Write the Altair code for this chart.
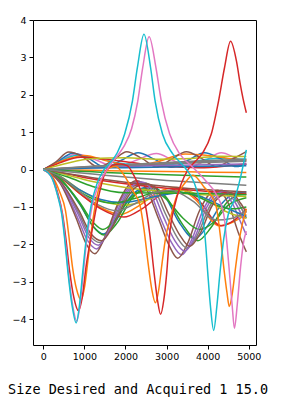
import altair as alt
import pandas as pd

# ---- series keypoints (x, y) ----
CYAN_A = [(0,0),(200,-0.2),(350,-0.7),(450,-1.2),(520,-1.85),(600,-2.74),(700,-3.63),(800,-4.1),(880,-3.63),(960,-2.74),(1045,-1.85),(1165,-0.96),(1300,-0.4),(1450,-0.05),(1600,0.15),(1800,0.45),(1980,0.95),(2170,1.84),(2290,2.73),(2450,3.62),(2610,2.73),(2720,1.84),(2900,0.95),(3150,0.42),(3450,0.05),(3650,-0.3),(3830,-0.96),(3940,-1.85),(4000,-2.74),(4065,-3.63),(4145,-4.3),(4225,-3.63),(4300,-2.74),(4390,-1.85),(4500,-1.2),(4650,-0.8),(4800,-0.2),(4940,0.53)]
PINK_A = [(0,0),(200,-0.2),(350,-0.68),(460,-1.2),(530,-1.85),(610,-2.74),(710,-3.6),(815,-4.05),(895,-3.6),(975,-2.74),(1060,-1.85),(1190,-0.96),(1350,-0.4),(1550,0.0),(1750,0.3),(1950,0.6),(2150,1.1),(2300,1.84),(2420,2.73),(2575,3.55),(2740,2.73),(2870,1.84),(3075,0.95),(3320,0.42),(3650,0.05),(3950,-0.3),(4200,-0.65),(4390,-1.2),(4470,-2.0),(4540,-2.9),(4600,-3.7),(4650,-4.24),(4720,-3.6),(4800,-2.6),(4880,-1.9),(4940,-1.65)]
RED_A = [(0,0),(200,-0.18),(350,-0.62),(470,-1.2),(550,-1.85),(640,-2.7),(740,-3.4),(855,-3.77),(950,-3.4),(1040,-2.6),(1175,-1.71),(1330,-0.8),(1540,0.0),(1700,0.12),(1880,0.15),(2050,0.1),(2200,-0.15),(2350,-0.5),(2485,-0.96),(2590,-1.72),(2700,-2.8),(2780,-3.5),(2855,-3.87),(2930,-3.5),(3000,-2.8),(3075,-1.72),(3200,-0.95),(3350,-0.4),(3520,0.0),(3700,0.22),(3880,0.45),(4087,0.95),(4265,1.84),(4410,2.73),(4556,3.43),(4700,2.9),(4790,2.3),(4860,1.9),(4940,1.52)]
ORANGE_A = [(0,0),(200,-0.15),(400,-0.6),(540,-1.1),(620,-1.75),(710,-2.6),(810,-3.2),(920,-3.48),(1010,-3.1),(1100,-2.3),(1200,-1.4),(1330,-0.6),(1480,-0.15),(1620,0.05),(1760,0.08),(1900,-0.05),(2050,-0.3),(2200,-0.6),(2354,-0.96),(2450,-1.6),(2550,-2.5),(2640,-3.2),(2728,-3.56),(2810,-3.2),(2890,-2.5),(2980,-1.8),(3107,-1.23),(3250,-0.7),(3432,-0.38),(3641,-0.15),(3900,-0.45),(4200,-0.96),(4300,-1.7),(4400,-2.7),(4470,-3.3),(4525,-3.66),(4600,-3.3),(4680,-2.6),(4780,-1.8),(4940,-1.05)]

BROWN_M1 = [(0,0),(400,-0.35),(800,-1.3),(1050,-2.0),(1255,-2.25),(1500,-1.8),(1800,-0.95),(2050,-0.45),(2280,-0.3),(2500,-0.5),(2800,-1.3),(3050,-2.0),(3270,-2.37),(3500,-2.0),(3800,-1.1),(4050,-0.65),(4250,-0.55),(4500,-0.9),(4750,-1.7),(4940,-2.2)]
PURPLE_M1 = [(0,0),(400,-0.33),(820,-1.25),(1080,-1.9),(1300,-2.12),(1550,-1.7),(1850,-0.9),(2100,-0.45),(2330,-0.32),(2550,-0.5),(2850,-1.3),(3120,-1.95),(3370,-2.28),(3600,-1.9),(3900,-1.05),(4150,-0.65),(4350,-0.55),(4600,-0.9),(4800,-1.4),(4940,-1.75)]
PURPLE_M2 = [(0,0),(400,-0.31),(850,-1.2),(1110,-1.82),(1340,-2.02),(1600,-1.62),(1900,-0.88),(2150,-0.45),(2390,-0.33),(2620,-0.5),(2920,-1.25),(3190,-1.88),(3440,-2.18),(3680,-1.82),(3980,-1.0),(4230,-0.65),(4430,-0.57),(4680,-0.9),(4940,-1.5)]
GRAY_M1 = [(0,0),(400,-0.3),(860,-1.15),(1130,-1.76),(1380,-1.95),(1650,-1.55),(1950,-0.85),(2200,-0.45),(2440,-0.35),(2680,-0.5),(2980,-1.2),(3250,-1.8),(3500,-2.1),(3750,-1.75),(4050,-0.98),(4300,-0.66),(4500,-0.6),(4750,-0.9),(4940,-1.3)]
BROWN_M2 = [(0,0),(400,-0.3),(870,-1.1),(1150,-1.7),(1420,-1.9),(1700,-1.5),(2000,-0.83),(2250,-0.47),(2500,-0.38),(2750,-0.52),(3050,-1.18),(3320,-1.75),(3560,-2.05),(3820,-1.7),(4100,-0.98),(4350,-0.68),(4560,-0.62),(4800,-0.9),(4940,-1.15)]

BLUE_C1 = [(0,0),(400,-0.25),(900,-0.95),(1200,-1.5),(1460,-1.72),(1750,-1.4),(2100,-0.75),(2400,-0.5),(2650,-0.45),(2950,-0.7),(3300,-1.4),(3680,-1.85),(4000,-1.5),(4350,-0.9),(4700,-0.62),(4940,-0.6)]
GREEN_C1 = [(0,0),(400,-0.25),(900,-0.93),(1200,-1.5),(1480,-1.75),(1780,-1.45),(2150,-0.78),(2450,-0.52),(2700,-0.5),(3000,-0.75),(3380,-1.45),(3760,-1.9),(4080,-1.55),(4450,-0.9),(4750,-0.68),(4940,-0.65)]
GREEN_C2 = [(0,0),(400,-0.24),(900,-0.9),(1220,-1.42),(1450,-1.6),(1750,-1.35),(2100,-0.78),(2400,-0.58),(2650,-0.55),(3000,-0.8),(3400,-1.3),(3800,-1.6),(4150,-1.4),(4500,-0.95),(4940,-0.75)]

RED_D1 = [(0,0),(400,-0.2),(900,-0.65),(1400,-1.05),(1960,-1.27),(2400,-1.05),(2900,-0.65),(3350,-0.5),(3800,-0.85),(4320,-1.5),(4650,-1.35),(4940,-1.05)]
ORANGE_D1 = [(0,0),(400,-0.2),(900,-0.65),(1400,-1.02),(1880,-1.2),(2350,-0.95),(2800,-0.6),(3250,-0.48),(3700,-0.8),(4280,-1.5),(4620,-1.4),(4940,-1.2)]
GRAY_D1 = [(0,0),(400,-0.18),(900,-0.6),(1350,-0.95),(1800,-1.1),(2250,-0.9),(2700,-0.62),(3100,-0.55),(3650,-0.85),(4200,-1.35),(4600,-1.3),(4940,-1.1)]
OLIVE_D1 = [(0,0),(400,-0.17),(900,-0.55),(1450,-0.85),(2000,-0.95),(2550,-0.8),(3000,-0.6),(3400,-0.55),(3900,-0.75),(4400,-1.1),(4940,-1.3)]
GREEN_D1 = [(0,0),(400,-0.19),(900,-0.6),(1300,-0.82),(1700,-0.9),(2200,-0.78),(2700,-0.62),(3200,-0.58),(3700,-0.7),(4200,-0.95),(4600,-1.05),(4940,-1.0)]
BLUE_D1 = [(0,0),(400,-0.18),(900,-0.55),(1400,-0.8),(1900,-0.88),(2400,-0.8),(2900,-0.68),(3400,-0.62),(3900,-0.75),(4400,-1.0),(4940,-1.25)]

RED_E = [(0,0),(600,-0.12),(1200,-0.25),(2000,-0.38),(3000,-0.5),(4000,-0.58),(4940,-0.65)]
BROWN_E = [(0,0),(600,-0.11),(1200,-0.22),(2000,-0.34),(3000,-0.45),(4000,-0.54),(4940,-0.6)]
OLIVE_E = [(0,0),(600,-0.15),(1200,-0.32),(2000,-0.48),(3000,-0.6),(4000,-0.68),(4940,-0.72)]
GRAY_E = [(0,0),(600,-0.06),(1200,-0.12),(2000,-0.2),(3000,-0.29),(4000,-0.36),(4940,-0.42)]
GREEN_E = [(0,0),(600,-0.03),(1200,-0.06),(2000,-0.1),(3000,-0.14),(4000,-0.17),(4940,-0.2)]
ORANGE_E = [(0,0),(600,-0.01),(1200,-0.02),(2000,-0.04),(3000,-0.05),(4000,-0.07),(4940,-0.08)]
GREEN_E2 = [(0,0),(600,-0.2),(1200,-0.45),(2000,-0.62),(3000,-0.63),(4000,-0.64),(4940,-0.67)]

GRAY_G1 = [(0,0),(600,0.04),(1200,0.07),(2000,0.1),(3000,0.15),(4000,0.19),(4940,0.22)]
GRAY_G2 = [(0,0),(600,0.05),(1200,0.09),(2000,0.13),(3000,0.19),(4000,0.24),(4940,0.28)]
GRAY_G3 = [(0,0),(600,0.045),(1200,0.08),(2000,0.115),(3000,0.17),(4000,0.215),(4940,0.25)]
BLUE_G = [(0,0),(600,0.02),(1200,0.04),(2000,0.05),(3000,0.07),(4000,0.09),(4940,0.1)]
PURPLE_G = [(0,0),(600,0.03),(1200,0.05),(2000,0.08),(3000,0.11),(4000,0.13),(4940,0.15)]

BROWN_H = [(0,0),(300,0.2),(620,0.47),(950,0.35),(1330,0.07),(1700,0.25),(2030,0.48),(2400,0.3),(2760,0.07),(3120,0.28),(3480,0.48),(3850,0.3),(4200,0.08),(4600,0.28),(4940,0.48)]
BLUE_H = [(0,0),(300,0.17),(720,0.44),(1100,0.3),(1500,0.06),(1900,0.25),(2307,0.45),(2700,0.28),(3110,0.06),(3520,0.25),(3925,0.45),(4300,0.3),(4700,0.08),(4940,0.15)]
PINK_H = [(0,0),(300,0.15),(800,0.42),(1300,0.25),(1770,0.06),(2260,0.25),(2752,0.43),(3150,0.25),(3540,0.06),(3950,0.25),(4330,0.45),(4700,0.3),(4940,0.2)]
ORANGE_H = [(0,0),(500,0.25),(1000,0.38),(1600,0.22),(2200,0.1),(2800,0.22),(3450,0.42),(4000,0.38),(4500,0.3),(4940,0.25)]
RED_H = [(0,0),(400,0.18),(900,0.33),(1500,0.28),(2200,0.18),(3000,0.08),(3800,0.05),(4500,0.1),(4940,0.15)]
OLIVE_H = [(0,0),(500,0.15),(1200,0.3),(2000,0.32),(2800,0.28),(3600,0.3),(4300,0.36),(4940,0.35)]
CYAN_H = [(0,0),(400,0.22),(800,0.38),(1300,0.3),(2000,0.15),(2800,0.12),(3500,0.18),(4200,0.3),(4940,0.28)]

LINES = [
    ("BLUE_C1", "#1f77b4", BLUE_C1), ("ORANGE_D1", "#ff7f0e", ORANGE_D1), ("GREEN_C1", "#2ca02c", GREEN_C1),
    ("RED_D1", "#d62728", RED_D1), ("PURPLE_M1", "#9467bd", PURPLE_M1), ("BROWN_M1", "#8c564b", BROWN_M1),
    ("PINK_H", "#e377c2", PINK_H), ("GRAY_M1", "#7f7f7f", GRAY_M1), ("OLIVE_D1", "#bcbd22", OLIVE_D1),
    ("CYAN_H", "#17becf", CYAN_H), ("BLUE_H", "#1f77b4", BLUE_H), ("ORANGE_H", "#ff7f0e", ORANGE_H),
    ("GREEN_C2", "#2ca02c", GREEN_C2), ("RED_E", "#d62728", RED_E), ("PURPLE_M2", "#9467bd", PURPLE_M2),
    ("BROWN_H", "#8c564b", BROWN_H), ("GRAY_G1", "#7f7f7f", GRAY_G1), ("OLIVE_E", "#bcbd22", OLIVE_E),
    ("BLUE_D1", "#1f77b4", BLUE_D1), ("ORANGE_E", "#ff7f0e", ORANGE_E), ("GREEN_D1", "#2ca02c", GREEN_D1),
    ("RED_H", "#d62728", RED_H), ("PURPLE_G", "#9467bd", PURPLE_G), ("BROWN_E", "#8c564b", BROWN_E),
    ("GRAY_G2", "#7f7f7f", GRAY_G2), ("OLIVE_H", "#bcbd22", OLIVE_H), ("BLUE_G", "#1f77b4", BLUE_G),
    ("GREEN_E", "#2ca02c", GREEN_E), ("GRAY_E", "#7f7f7f", GRAY_E), ("GREEN_E2", "#2ca02c", GREEN_E2),
    ("BROWN_M2", "#8c564b", BROWN_M2), ("GRAY_D1", "#7f7f7f", GRAY_D1), ("GRAY_G3", "#7f7f7f", GRAY_G3),
    ("ORANGE_A", "#ff7f0e", ORANGE_A), ("RED_A", "#d62728", RED_A), ("PINK_A", "#e377c2", PINK_A),
    ("CYAN_A", "#17becf", CYAN_A),
]

X_TICKS = [0, 1000, 2000, 3000, 4000, 5000]
Y_TICKS = [-4, -3, -2, -1, 0, 1, 2, 3, 4]
TITLE = "Size Desired and Acquired 1 15.0"

rows = []
for order, (name, color, pts) in enumerate(LINES):
    for x, y in pts:
        rows.append({"series": name, "color": color, "order": order, "x": x, "y": y})
df = pd.DataFrame(rows)

chart = alt.Chart(df).mark_line(interpolate="monotone", strokeWidth=1.5).encode(
    x=alt.X("x:Q", scale=alt.Scale(domain=[-250, 5175], nice=False, zero=False),
            axis=alt.Axis(values=X_TICKS, format="d", title=None, grid=False, domain=False,
                          tickSize=4, tickColor="black", labelColor="black",
                          labelFont="DejaVu Sans", labelFontSize=9.5, labelPadding=2)),
    y=alt.Y("y:Q", scale=alt.Scale(domain=[-4.69, 4.0], nice=False, zero=False),
            axis=alt.Axis(values=Y_TICKS, format="d", title=None, grid=False, domain=False,
                          tickSize=4, tickColor="black", labelColor="black",
                          labelFont="DejaVu Sans", labelFontSize=9.5, labelPadding=3)),
    color=alt.Color("color:N", scale=None),
    detail="series:N",
    order=alt.Order("x:Q"),
).properties(
    width=223, height=325,
    autosize=alt.AutoSizeParams(type="none"),
    padding={"left": 25, "top": 12, "right": 20, "bottom": 56},
    title=alt.TitleParams(TITLE, orient="bottom", anchor="start", frame="group", dx=-25, offset=22,
                          font="DejaVu Sans Mono", fontSize=13.5, fontWeight="normal", color="black"),
).configure_view(stroke="black", strokeWidth=1)

chart.save("out.html", embed_options={"renderer": "svg", "actions": False})
